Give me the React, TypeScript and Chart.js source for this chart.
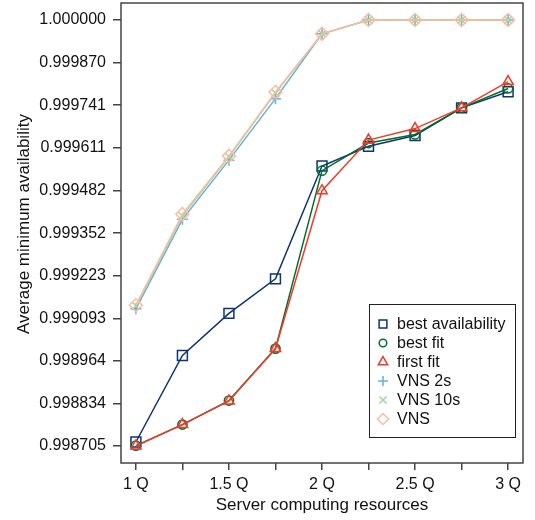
import React, { useEffect, useRef } from 'react';
import { Chart, registerables } from 'chart.js';
import { drawPoint } from 'chart.js/helpers';

Chart.register(...registerables);

// ---- data ----
const xValues = [1, 1.25, 1.5, 1.75, 2, 2.25, 2.5, 2.75, 3];
const xTickLabels = ['1 Q', '', '1.5 Q', '', '2 Q', '', '2.5 Q', '', '3 Q'];
const yTickLabels = [
  '0.998705', '0.998834', '0.998964', '0.999093', '0.999223', '0.999352',
  '0.999482', '0.999611', '0.999741', '0.999870', '1.000000',
];

const bestAvailability = [0.998717, 0.99898, 0.999108, 0.999213, 0.999556, 0.999616, 0.999649, 0.999733, 0.999782];
const bestFit = [0.998706, 0.99877, 0.998843, 0.999001, 0.999542, 0.999626, 0.999652, 0.999733, 0.999792];
const firstFit = [0.998705, 0.99877, 0.998842, 0.999001, 0.999481, 0.999635, 0.99967, 0.999733, 0.999813];
const vns2s = [0.999122, 0.999394, 0.999574, 0.999761, 0.999958, 1, 1, 1, 1];
const vns10s = [0.999131, 0.999404, 0.999584, 0.999778, 0.999958, 1, 1, 1, 1];
const vns = [0.999133, 0.99941, 0.999587, 0.999781, 0.999958, 1, 1, 1, 1];

const seriesNames = ['best availability', 'best fit', 'first fit', 'VNS 2s', 'VNS 10s', 'VNS'];
const seriesData = [bestAvailability, bestFit, firstFit, vns2s, vns10s, vns];

// ---- styles ----
const seriesColors = ['#0d3570', '#006D2C', '#EF3B2C', '#6BAED6', '#A1D99B', '#FCBBA1'];
const seriesPointStyles = ['rect', 'circle', 'triangle', 'cross', 'crossRot', 'rectRot'];
const seriesRadii = [7, 4.6, 6, 5.5, 5.5, 6.5];
const legendRadii = [5.5, 3.8, 5.5, 5, 5, 5.5];

const FONT = "'Liberation Sans', Arial, Helvetica, sans-serif";
const AXIS_COLOR = '#444';
const TEXT_COLOR = '#111';

const yFirst = parseFloat(yTickLabels[0]);
const yLast = parseFloat(yTickLabels[yTickLabels.length - 1]);
const yPad = (yLast - yFirst) * 0.04;
const xPad = (xValues[xValues.length - 1] - xValues[0]) * 0.04;

const boxPlugin = {
  id: 'boxPlugin',
  afterDraw(chart: any) {
    const { ctx, chartArea } = chart;
    const { left, right, top, bottom } = chartArea;
    ctx.save();
    // plot frame
    ctx.strokeStyle = AXIS_COLOR;
    ctx.lineWidth = 1.5;
    ctx.strokeRect(left, top, right - left, bottom - top);

    // y-axis title
    ctx.fillStyle = TEXT_COLOR;
    ctx.font = `17px ${FONT}`;
    ctx.textAlign = 'center';
    ctx.textBaseline = 'middle';
    ctx.translate(24, (top + bottom) / 2 - 9);
    ctx.rotate(-Math.PI / 2);
    ctx.fillText('Average minimum availability', 0, 0);
    ctx.restore();

    // legend
    ctx.save();
    const bx = right - 154;
    const by = bottom - 159;
    const bw = 146;
    const bh = 133;
    ctx.fillStyle = '#fff';
    ctx.fillRect(bx, by, bw, bh);
    ctx.strokeStyle = '#222';
    ctx.lineWidth = 1;
    ctx.strokeRect(bx + 0.5, by + 0.5, bw, bh);
    ctx.font = `16px ${FONT}`;
    ctx.textAlign = 'left';
    ctx.textBaseline = 'middle';
    seriesNames.forEach((name, i) => {
      const y = by + 20 + i * 19;
      ctx.strokeStyle = seriesColors[i];
      ctx.fillStyle = 'rgba(0,0,0,0)';
      ctx.lineWidth = 1.5;
      drawPoint(ctx, { pointStyle: seriesPointStyles[i], radius: legendRadii[i], rotation: 0, borderWidth: 1.5 } as any, bx + 14, y);
      ctx.fillStyle = TEXT_COLOR;
      ctx.fillText(name, bx + 28, y + 1);
    });
    ctx.restore();
  },
};

export default function App() {
  const ref = useRef<HTMLCanvasElement>(null);

  useEffect(() => {
    if (!ref.current) return;
    const datasets = seriesNames.map((name, i) => ({
      label: name,
      data: xValues.map((x, j) => ({ x, y: seriesData[i][j] })),
      borderColor: seriesColors[i],
      backgroundColor: 'rgba(0,0,0,0)',
      pointBackgroundColor: 'rgba(0,0,0,0)',
      pointBorderColor: seriesColors[i],
      pointStyle: seriesPointStyles[i] as any,
      pointRadius: seriesRadii[i],
      pointBorderWidth: 1.5,
      borderWidth: 1.5,
      tension: 0,
      order: seriesNames.length - i,
    }));

    const chart = new Chart(ref.current, {
      type: 'line',
      data: { datasets },
      plugins: [boxPlugin],
      options: {
        responsive: false,
        animation: false,
        devicePixelRatio: 1,
        layout: { autoPadding: false, padding: { left: 0, top: 3, right: 12, bottom: 0 } },
        plugins: {
          legend: { display: false },
          tooltip: { enabled: false },
        },
        scales: {
          x: {
            type: 'linear',
            min: xValues[0] - xPad,
            max: xValues[xValues.length - 1] + xPad,
            border: { display: false },
            grid: { drawOnChartArea: false, drawTicks: true, tickLength: 7, color: AXIS_COLOR, lineWidth: 1.5 },
            ticks: {
              autoSkip: false,
              maxRotation: 0,
              padding: 5,
              color: TEXT_COLOR,
              font: { family: FONT, size: 16 },
              callback: (_v: any, i: number) => xTickLabels[i],
            },
            afterBuildTicks: (scale: any) => {
              scale.ticks = xValues.map((v) => ({ value: v }));
            },
            afterFit: (scale: any) => {
              scale.height = 57;
              scale.paddingLeft = 0;
              scale.paddingRight = 0;
            },
            title: {
              display: true,
              text: 'Server computing resources',
              color: TEXT_COLOR,
              font: { family: FONT, size: 17 },
              padding: { top: 0, bottom: 4 },
            },
          },
          y: {
            type: 'linear',
            min: yFirst - yPad,
            max: yLast + yPad,
            border: { display: false },
            grid: { drawOnChartArea: false, drawTicks: true, tickLength: 8, color: AXIS_COLOR, lineWidth: 1.5 },
            ticks: {
              autoSkip: false,
              padding: 7,
              color: TEXT_COLOR,
              font: { family: FONT, size: 16 },
              callback: (_v: any, i: number) => yTickLabels[i],
            },
            afterBuildTicks: (scale: any) => {
              scale.ticks = yTickLabels.map((s) => ({ value: parseFloat(s) }));
            },
            afterFit: (scale: any) => {
              scale.width = 121;
              scale.paddingTop = 0;
              scale.paddingBottom = 0;
            },
          },
        },
      },
    });
    return () => chart.destroy();
  }, []);

  return (
    <div style={{ position: 'fixed', left: 0, top: 0, width: 535, height: 520, background: '#fff' }}>
      <canvas ref={ref} width={535} height={520} style={{ display: 'block', width: 535, height: 520 }} />
    </div>
  );
}
